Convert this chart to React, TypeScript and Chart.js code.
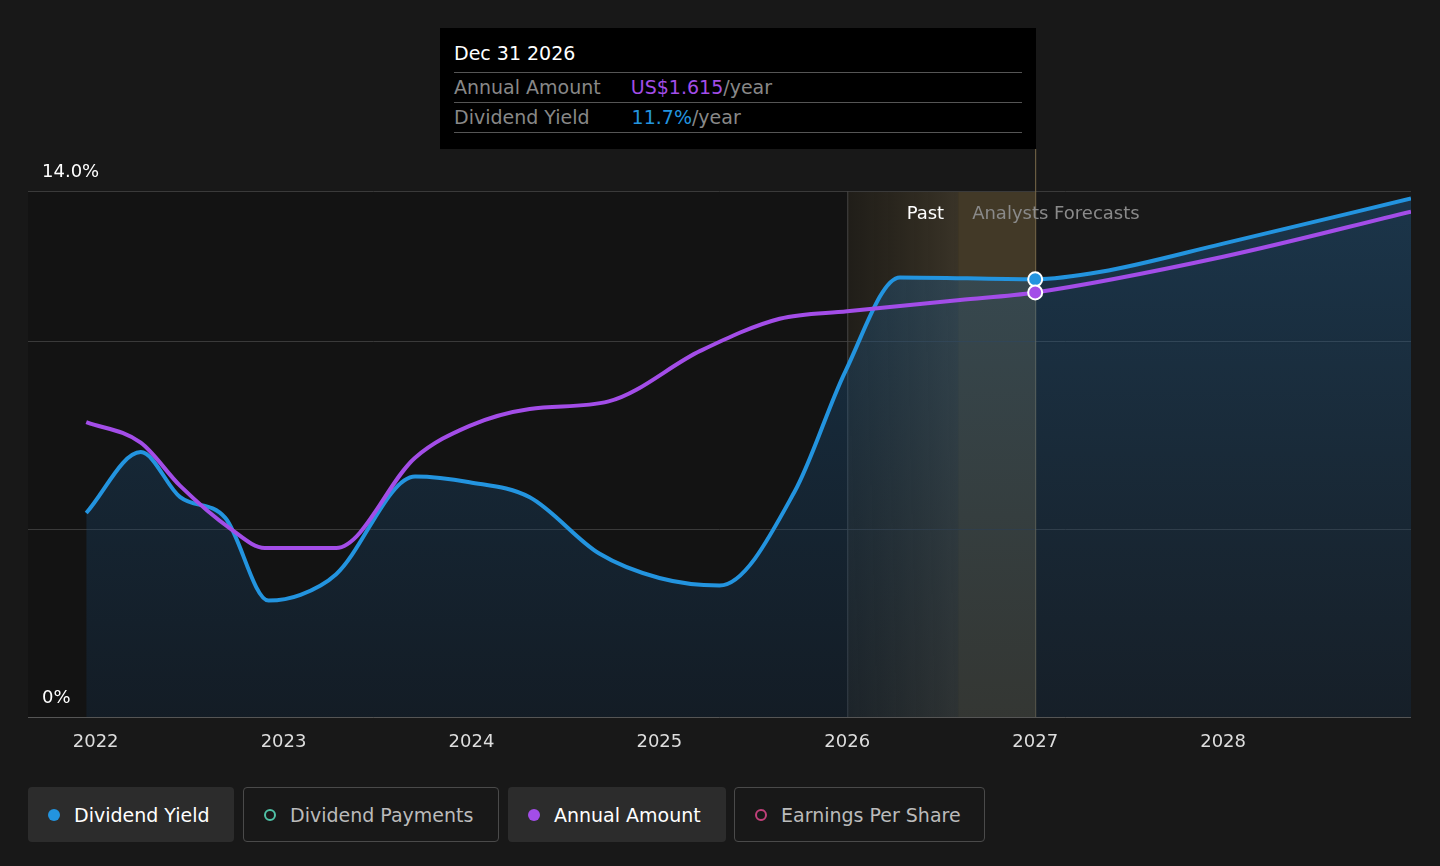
import React, { useEffect, useRef } from "react";
import { Chart, registerables } from "chart.js";
Chart.register(...registerables);

const yieldYears = [2021.95, 2022.24, 2022.45, 2022.69, 2022.92, 2023.09, 2023.28, 2023.7, 2023.99, 2024.31, 2024.68, 2025.0, 2025.32, 2025.72, 2025.99, 2026.28, 2027.0, 2027.35, 2028.0, 2029.0];
const yieldValues = [5.43, 7.05, 5.85, 5.3, 3.1, 3.25, 3.8, 6.4, 6.25, 5.85, 4.35, 3.7, 3.5, 6.0, 9.2, 11.7, 11.65, 11.85, 12.6, 13.8];
const amountYears = [2021.95, 2022.24, 2022.45, 2022.72, 2022.9, 2023.28, 2023.7, 2023.99, 2024.31, 2024.73, 2025.22, 2025.64, 2026.0, 2026.6, 2027.0, 2028.0, 2029.0];
const amountValues = [7.85, 7.3, 6.15, 5.0, 4.5, 4.5, 6.9, 7.75, 8.2, 8.4, 9.75, 10.6, 10.8, 11.1, 11.3, 12.25, 13.45];
const xTicks = [2022, 2023, 2024, 2025, 2026, 2027, 2028];
const gridValues = [0, 5, 10, 14];
const pastStart = 2026, todayX = 2026.59, forecastX = 2027;

const font = "'DejaVu Sans', sans-serif";

export default function App() {
  const ref = useRef<HTMLCanvasElement>(null);
  useEffect(() => {
    const bg = {
      id: "bg",
      beforeDatasetsDraw(c: any) {
        const { ctx, chartArea: a, scales } = c;
        const x = scales.x, y = scales.y;
        ctx.save();
        const px = x.getPixelForValue(pastStart), pt = x.getPixelForValue(todayX), pf = x.getPixelForValue(forecastX);
        ctx.fillStyle = "#131313";
        ctx.fillRect(a.left, a.top, px - a.left, a.bottom - a.top);
        let g = ctx.createLinearGradient(px, 0, pt, 0);
        g.addColorStop(0, "rgba(60,50,30,0.25)");
        g.addColorStop(1, "rgba(80,70,50,0.6)");
        ctx.fillStyle = g;
        ctx.fillRect(px, a.top, pt - px, a.bottom - a.top);
        ctx.fillStyle = "rgba(95,80,50,0.6)";
        ctx.fillRect(pt, a.top, pf - pt, a.bottom - a.top);
        ctx.strokeStyle = "#3a3a3a";
        ctx.lineWidth = 1;
        for (const v of gridValues) {
          const py = Math.round(y.getPixelForValue(v)) + 0.5;
          ctx.beginPath(); ctx.moveTo(a.left, py); ctx.lineTo(a.right, py); ctx.stroke();
        }
        ctx.strokeStyle = "#444";
        ctx.beginPath(); ctx.moveTo(px + 0.5, a.top); ctx.lineTo(px + 0.5, a.bottom); ctx.stroke();
        ctx.strokeStyle = "#7a6a4a";
        ctx.beginPath(); ctx.moveTo(pf + 0.5, 149); ctx.lineTo(pf + 0.5, a.bottom); ctx.stroke();
        ctx.fillStyle = "#fff";
        ctx.font = `18px ${font}`;
        ctx.textBaseline = "alphabetic";
        ctx.textAlign = "left";
        ctx.fillText("14.0%", 42, y.getPixelForValue(14) - 14);
        ctx.fillText("0%", 42, y.getPixelForValue(0) - 14);
        ctx.textAlign = "right";
        ctx.fillText("Past", pt - 14, 219);
        ctx.textAlign = "left";
        ctx.fillStyle = "#8a8a8a";
        ctx.fillText("Analysts Forecasts", pt + 14, 219);
        ctx.textAlign = "center";
        ctx.fillStyle = "#ddd";
        for (const t of xTicks) ctx.fillText(String(t), x.getPixelForValue(t), 747);
        ctx.restore();
      },
      afterDatasetsDraw(c: any) {
        const { ctx, chartArea: a } = c;
        ctx.save();
        ctx.strokeStyle = "#555";
        ctx.beginPath(); ctx.moveTo(a.left, a.bottom + 0.5); ctx.lineTo(a.right, a.bottom + 0.5); ctx.stroke();
        ctx.restore();
      },
    };
    const chart = new Chart(ref.current!, {
      type: "line",
      data: {
        datasets: [
          {
            data: amountYears.map((x, i) => ({ x, y: amountValues[i] })),
            borderColor: "#a34de8", borderWidth: 4, cubicInterpolationMode: "monotone", fill: false,
            pointRadius: amountYears.map((x) => (x === forecastX ? 7 : 0)),
            pointBackgroundColor: "#a34de8", pointBorderColor: "#fff", pointBorderWidth: 2,
          },
          {
            data: yieldYears.map((x, i) => ({ x, y: yieldValues[i] })),
            borderColor: "#2394df", borderWidth: 4, cubicInterpolationMode: "monotone",
            fill: "origin",
            backgroundColor: (ctx: any) => {
              const a = ctx.chart.chartArea;
              if (!a) return "rgba(35,148,223,0.15)";
              const g = ctx.chart.ctx.createLinearGradient(0, a.top, 0, a.bottom);
              g.addColorStop(0, "rgba(35,110,170,0.35)");
              g.addColorStop(1, "rgba(20,50,80,0.3)");
              return g;
            },
            pointRadius: yieldYears.map((x) => (x === forecastX ? 7 : 0)),
            pointBackgroundColor: "#2394df", pointBorderColor: "#fff", pointBorderWidth: 2,
          },
        ],
      },
      options: {
        animation: false, responsive: false,
        layout: { padding: { left: 28, right: 29, top: 191, bottom: 53 } },
        plugins: { legend: { display: false }, tooltip: { enabled: false } },
        scales: {
          x: { type: "linear", min: 2021.64, max: 2029.0, display: false },
          y: { min: 0, max: 14, display: false },
        },
      },
      plugins: [bg],
    } as any);
    return () => chart.destroy();
  }, []);

  const btn = (label: string, color: string, filled: boolean, left: number, width: number) => (
    <div style={{ position: "absolute", left, top: 787, width, height: 55, boxSizing: "border-box", borderRadius: 4,
      background: filled ? "#2c2c2c" : "transparent", border: filled ? "none" : "1px solid #4a4a4a",
      display: "flex", alignItems: "center", paddingLeft: 20, color: filled ? "#fff" : "#bbb", fontSize: 19, fontFamily: font }}>
      <span style={{ width: 12, height: 12, borderRadius: 7, marginRight: 14, boxSizing: "border-box",
        background: filled ? color : "transparent", border: filled ? "none" : `2px solid ${color}` }} />
      {label}
    </div>
  );

  return (
    <div style={{ position: "fixed", left: 0, top: 0, width: 1440, height: 866, background: "#181818", overflow: "hidden" }}>
      <canvas ref={ref} width={1440} height={770} style={{ position: "absolute", left: 0, top: 0 }} />
      <div style={{ position: "absolute", left: 440, top: 28, width: 596, height: 121, background: "#000", fontFamily: font, fontSize: 19, boxSizing: "border-box", padding: "14px 14px 0 14px" }}>
        <div style={{ color: "#fff", height: 30, borderBottom: "1px solid #555" }}>Dec 31 2026</div>
        <div style={{ color: "#888", height: 29, lineHeight: "29px", borderBottom: "1px solid #555" }}>Annual Amount <span style={{ marginLeft: 24, color: "#a34de8" }}>US$1.615</span><span>/year</span></div>
        <div style={{ color: "#888", height: 29, lineHeight: "29px", borderBottom: "1px solid #555" }}>Dividend Yield <span style={{ marginLeft: 36, color: "#2394df" }}>11.7%</span><span>/year</span></div>
      </div>
      {btn("Dividend Yield", "#2394df", true, 28, 206)}
      {btn("Dividend Payments", "#4fc1a6", false, 243, 256)}
      {btn("Annual Amount", "#a34de8", true, 508, 218)}
      {btn("Earnings Per Share", "#c0407a", false, 734, 251)}
    </div>
  );
}
